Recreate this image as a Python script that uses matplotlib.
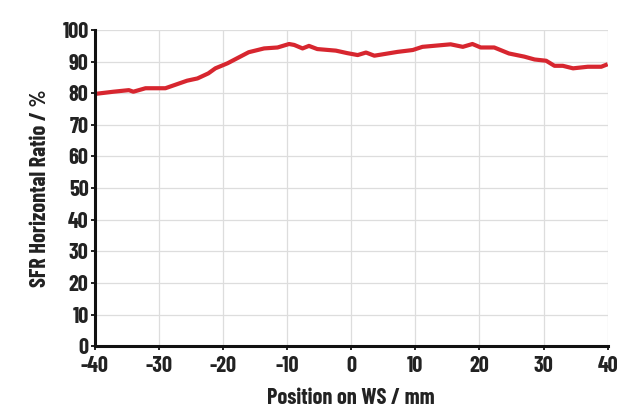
import matplotlib
matplotlib.use('Agg')
import matplotlib.pyplot as plt

# position on WS (mm) and SFR horizontal ratio (%)
pos = [-40, -37.1, -34.7, -34.0, -32.1, -29.0, -25.6, -24.0, -22.3, -21.2,
       -19.3, -16.0, -13.6, -11.5, -9.7, -8.9, -7.6, -6.6, -5.3, -2.4,
       -0.6, 1.0, 2.3, 3.6, 7.2, 9.6, 11.1, 15.5, 17.4, 18.9,
       20.2, 22.3, 24.6, 27.0, 28.6, 30.4, 31.7, 33.0, 34.6, 36.9,
       39.0, 40.0]
sfr = [79.8, 80.5, 81.0, 80.5, 81.6, 81.6, 84.0, 84.7, 86.3, 87.9,
       89.5, 93.0, 94.2, 94.5, 95.6, 95.3, 94.2, 95.0, 94.0, 93.5,
       92.7, 92.1, 92.9, 91.9, 93.1, 93.7, 94.7, 95.5, 94.7, 95.6,
       94.5, 94.5, 92.6, 91.6, 90.7, 90.3, 88.7, 88.7, 87.9, 88.4,
       88.4, 89.2]

xticks = list(range(-40, 41, 10))
yticks = list(range(0, 101, 10))

plt.rcParams['font.family'] = ['Barlow Condensed', 'DejaVu Sans']
plt.rcParams['font.weight'] = 'bold'
plt.rcParams['axes.unicode_minus'] = False

fig = plt.figure(figsize=(6.41, 4.18), dpi=100)
ax = fig.add_axes([0.148, 0.172, 0.8, 0.756])

ax.plot(pos, sfr, color='#d7262f', lw=3.0, solid_capstyle='butt')

ax.set_xlim(-40, 40)
ax.set_ylim(0, 100)
ax.set_xticks(xticks)
ax.set_yticks(yticks)
ax.grid(True, color='#dddddd', lw=0.9)
ax.set_axisbelow(True)

for s in ['top', 'right']:
    ax.spines[s].set_visible(False)
for s in ['left', 'bottom']:
    ax.spines[s].set_linewidth(2.2)
    ax.spines[s].set_color('#111111')

ax.tick_params(direction='out', length=3, width=1.3, labelsize=16,
               colors='#111111', labelcolor='#222222')
ax.tick_params(axis='x', pad=4)
ax.tick_params(axis='y', pad=1.5)
for lab in ax.get_xticklabels() + ax.get_yticklabels():
    lab.set_fontweight('bold')

ax.set_xlabel('Position on WS / mm', fontsize=16, fontweight='bold', color='#222222', labelpad=9)
ax.set_ylabel('SFR Horizontal Ratio / %', fontsize=16, fontweight='bold', color='#222222', labelpad=9)

fig.savefig('out.png', dpi=100)
